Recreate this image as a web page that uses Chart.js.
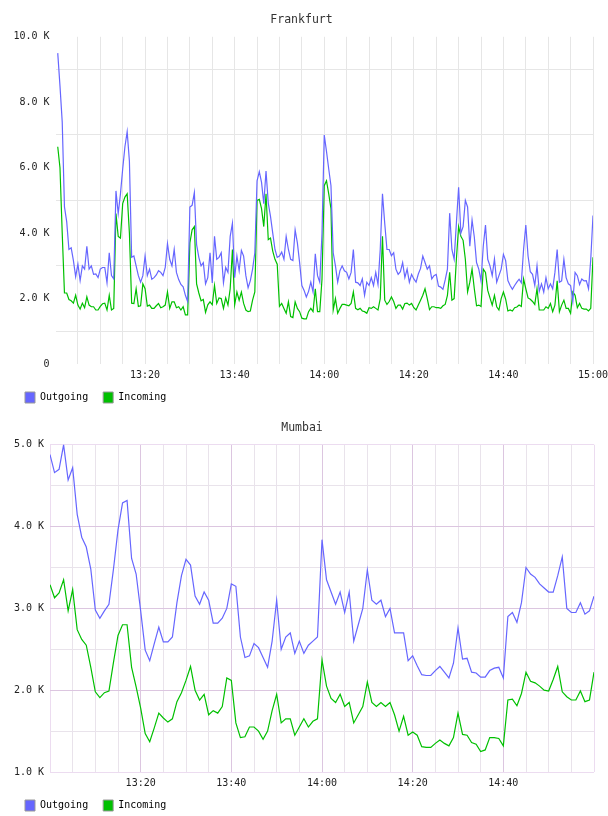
<!DOCTYPE html>
<html>
<head>
<meta charset="utf-8">
<script src="https://cdn.jsdelivr.net/npm/chart.js@4.4.1/dist/chart.umd.min.js"></script>
<style>
  html, body { margin: 0; padding: 0; background: #fff; }
  canvas { display: block; }
</style>
</head>
<body>
<canvas id="frankfurt" width="608" height="408"></canvas>
<canvas id="mumbai" width="608" height="408"></canvas>
<script>
// Frankfurt: one sample every 30 s from 13:00:30 to 15:00 (values in K)
const fraStart = 0.5;
const fraStep = 0.5;
const fraOutgoing = [
  9.5, 8.5, 7.4, 4.8, 4.35, 3.5, 3.55, 3.16, 2.67, 3.05,
  2.55, 3.0, 2.9, 3.6, 2.9, 3.0, 2.74, 2.75, 2.64, 2.9,
  2.95, 2.95, 2.48, 3.4, 2.7, 2.6, 5.29, 4.6, 5.2, 5.96,
  6.64, 7.1, 6.2, 3.26, 3.3, 3.0, 2.7, 2.5, 2.7, 3.3,
  2.7, 2.9, 2.59, 2.64, 2.72, 2.85, 2.8, 2.7, 2.95, 3.68,
  3.2, 3.0, 3.5, 2.8, 2.58, 2.43, 2.36, 2.1, 1.91, 4.8,
  4.85, 5.24, 3.65, 3.26, 3.0, 3.1, 2.45, 2.64, 3.4, 2.48,
  3.9, 3.2, 3.26, 3.4, 2.48, 2.95, 2.8, 3.9, 4.3, 2.64,
  3.3, 2.85, 3.47, 3.3, 2.7, 2.33, 2.55, 2.9, 3.4, 5.6,
  5.88, 5.55, 4.9, 5.9, 4.92, 4.51, 4.0, 3.5, 3.26, 3.3,
  3.42, 3.2, 3.9, 3.5, 3.2, 3.16, 4.1, 3.7, 3.1, 2.4,
  2.25, 2.05, 2.22, 2.5, 2.2, 3.37, 2.7, 2.5, 4.0, 7.0,
  6.5, 5.96, 5.45, 3.4, 3.0, 2.5, 2.85, 3.0, 2.85, 2.8,
  2.6, 2.8, 3.5, 2.5, 2.48, 2.4, 2.6, 2.1, 2.5, 2.4,
  2.64, 2.4, 2.8, 2.43, 3.5, 5.2, 4.3, 3.5, 3.5, 3.31,
  3.4, 2.9, 2.74, 2.82, 3.1, 2.64, 2.9, 2.5, 2.74, 2.6,
  2.5, 2.75, 2.92, 3.3, 3.1, 2.9, 3.0, 2.6, 2.7, 2.74,
  2.38, 2.35, 2.28, 2.57, 2.9, 4.61, 3.5, 3.2, 4.3, 5.4,
  4.0, 4.2, 5.0, 4.8, 3.6, 4.4, 3.88, 3.1, 2.9, 2.54,
  3.6, 4.25, 3.2, 3.0, 2.7, 3.21, 2.5, 2.7, 2.9, 3.35,
  3.16, 2.55, 2.4, 2.28, 2.4, 2.5, 2.59, 2.48, 3.5, 4.25,
  3.3, 2.82, 2.74, 2.4, 3.0, 2.22, 2.45, 2.2, 2.64, 2.3,
  2.45, 2.3, 2.8, 3.5, 2.5, 2.54, 3.2, 2.64, 2.45, 2.4,
  1.91, 2.8, 2.7, 2.43, 2.6, 2.54, 2.55, 2.3, 3.2, 4.54
];
const fraIncoming = [
  6.64, 6.0, 4.0, 2.17, 2.17, 1.97, 1.93, 1.86, 2.1, 1.8,
  1.68, 1.86, 1.72, 2.05, 1.8, 1.75, 1.75, 1.65, 1.65, 1.76,
  1.84, 1.86, 1.65, 2.1, 1.65, 1.7, 4.6, 3.9, 3.85, 4.9,
  5.1, 5.2, 4.0, 1.86, 1.85, 2.3, 1.76, 1.78, 2.45, 2.3,
  1.77, 1.8, 1.7, 1.7, 1.78, 1.85, 1.72, 1.75, 1.8, 2.2,
  1.7, 1.9, 1.9, 1.72, 1.75, 1.65, 1.75, 1.5, 1.5, 3.7,
  4.1, 4.2, 2.45, 2.17, 1.93, 1.97, 1.58, 1.81, 1.9, 1.81,
  2.4, 1.85, 2.02, 2.0, 1.7, 2.02, 1.8, 2.3, 3.5, 1.81,
  2.2, 1.95, 2.2, 1.85, 1.65, 1.6, 1.62, 1.95, 2.2, 5.0,
  5.03, 4.75, 4.2, 5.2, 3.8, 3.85, 3.45, 3.2, 3.05, 1.76,
  1.85, 1.7, 1.55, 1.9, 1.45, 1.42, 1.9, 1.7, 1.6, 1.4,
  1.38, 1.38, 1.6, 1.7, 1.6, 2.3, 1.6, 1.6, 2.6, 5.45,
  5.6, 5.2, 4.75, 1.65, 2.0, 1.55, 1.7, 1.82, 1.82, 1.8,
  1.78, 1.85, 2.2, 1.7, 1.66, 1.7, 1.62, 1.6, 1.55, 1.72,
  1.7, 1.75, 1.7, 1.65, 2.0, 3.9, 1.95, 1.82, 1.91, 2.05,
  1.91, 1.7, 1.8, 1.8, 1.68, 1.85, 1.86, 1.8, 1.85, 1.72,
  1.65, 1.8, 1.95, 2.1, 2.3, 2.0, 1.66, 1.75, 1.75, 1.72,
  1.72, 1.7, 1.78, 1.82, 2.1, 2.8, 1.95, 2.0, 3.2, 4.2,
  3.9, 3.78, 3.2, 2.2, 2.5, 2.9, 2.3, 1.78, 1.8, 1.76,
  2.9, 2.8, 2.25, 2.02, 1.8, 2.1, 1.75, 1.65, 2.0, 2.2,
  1.98, 1.62, 1.65, 1.62, 1.72, 1.74, 1.8, 1.76, 2.6, 2.3,
  2.02, 1.98, 1.91, 1.82, 2.3, 1.65, 1.65, 1.65, 1.75, 1.7,
  1.85, 1.6, 1.8, 2.54, 1.6, 1.8, 1.95, 1.7, 1.7, 1.55,
  2.2, 2.1, 1.72, 1.85, 1.7, 1.68, 1.68, 1.62, 1.7, 3.26
];

// Mumbai: one sample per minute from 13:00 to 15:00 (values in K)
const mumStart = 0;
const mumStep = 1;
const mumOutgoing = [
  4.88, 4.66, 4.70, 5.0, 4.57, 4.72, 4.15, 3.87, 3.75, 3.48,
  2.98, 2.88, 2.97, 3.05, 3.48, 3.96, 4.29, 4.32, 3.61, 3.42,
  2.97, 2.49, 2.36, 2.57, 2.77, 2.59, 2.59, 2.65, 3.07, 3.40,
  3.60, 3.53, 3.15, 3.05, 3.2, 3.1, 2.82, 2.82, 2.88, 3.0,
  3.3, 3.27, 2.65, 2.4, 2.42, 2.57, 2.52, 2.4, 2.28, 2.6,
  3.1, 2.5, 2.65, 2.7, 2.45, 2.6, 2.45, 2.55, 2.6, 2.65,
  3.84, 3.35, 3.2, 3.05, 3.2, 2.95, 3.2, 2.6, 2.8, 3.0,
  3.47, 3.1, 3.05, 3.1, 2.9, 3.0, 2.7, 2.7, 2.70, 2.36,
  2.42, 2.30, 2.19, 2.18, 2.18, 2.24, 2.29, 2.22, 2.15, 2.33,
  2.76, 2.38, 2.39, 2.22, 2.21, 2.16, 2.16, 2.24, 2.27, 2.28,
  2.15, 2.90, 2.95, 2.83, 3.07, 3.5, 3.42, 3.38, 3.3, 3.25,
  3.2, 3.2, 3.4, 3.63, 3.0, 2.95, 2.95, 3.07, 2.93, 2.97, 3.15
];
const mumIncoming = [
  3.29, 3.13, 3.19, 3.35, 2.97, 3.23, 2.74, 2.62, 2.55, 2.28,
  1.98, 1.91, 1.97, 1.99, 2.34, 2.67, 2.80, 2.80, 2.28, 2.04,
  1.78, 1.47, 1.37, 1.54, 1.72, 1.66, 1.61, 1.65, 1.86, 1.97,
  2.12, 2.29, 2.0, 1.88, 1.95, 1.7, 1.75, 1.72, 1.8, 2.15,
  2.12, 1.6, 1.42, 1.43, 1.55, 1.55, 1.5, 1.4, 1.5, 1.75,
  1.95, 1.6, 1.65, 1.65, 1.45, 1.55, 1.65, 1.55, 1.62, 1.65,
  2.37, 2.05, 1.9, 1.85, 1.95, 1.8, 1.85, 1.6, 1.7, 1.8,
  2.1, 1.85, 1.8, 1.85, 1.8, 1.85, 1.7, 1.5, 1.68, 1.45,
  1.49, 1.45, 1.31, 1.30, 1.30, 1.35, 1.39, 1.35, 1.32, 1.42,
  1.72, 1.46, 1.45, 1.36, 1.34, 1.25, 1.27, 1.42, 1.42, 1.41,
  1.32, 1.88, 1.89, 1.81, 1.96, 2.22, 2.11, 2.09, 2.05, 2.0,
  1.99, 2.13, 2.29, 1.98, 1.92, 1.88, 1.88, 1.99, 1.86, 1.88, 2.22
];

// tick labels (minutes after 13:00 -> text)
const timeTickMinutes = [20, 40, 60, 80, 100, 120];
const timeTickLabels = ['13:20', '13:40', '14:00', '14:20', '14:40', '15:00'];
const fraYTickValues = [0, 2, 4, 6, 8, 10];
const fraYTickLabels = ['0', '2.0 K', '4.0 K', '6.0 K', '8.0 K', '10.0 K'];
const mumYTickValues = [1, 2, 3, 4, 5];
const mumYTickLabels = ['1.0 K', '2.0 K', '3.0 K', '4.0 K', '5.0 K'];

const outColor = '#6666ff';
const inColor = '#00c000';
const monoFont = "'DejaVu Sans Mono', monospace";

function toPoints(values, start, step) {
  return values.map((v, i) => ({ x: start + i * step, y: v }));
}

function labelFor(value, values, labels) {
  const i = values.findIndex(v => Math.abs(v - value) < 1e-6);
  return i === -1 ? '' : labels[i];
}

function buildChart(canvasId, opts) {
  const ctx = document.getElementById(canvasId);
  new Chart(ctx, {
    type: 'line',
    data: {
      datasets: [
        { label: 'Outgoing', data: opts.outgoing, borderColor: outColor, backgroundColor: outColor },
        { label: 'Incoming', data: opts.incoming, borderColor: inColor, backgroundColor: inColor }
      ]
    },
    options: {
      responsive: false,
      animation: false,
      elements: {
        line: { borderWidth: 1.2, tension: 0 },
        point: { radius: 0 }
      },
      layout: { padding: { left: 10, right: opts.padRight, top: 0, bottom: -5 } },
      plugins: {
        title: {
          display: true,
          text: opts.title,
          color: '#333',
          font: { family: monoFont, size: 11.5, weight: 'normal' },
          padding: { top: 13, bottom: 10 }
        },
        legend: {
          position: 'bottom',
          align: 'start',
          labels: {
            boxWidth: 10,
            boxHeight: 11,
            padding: 15,
            color: '#111',
            font: { family: monoFont, size: 10 },
            generateLabels: chart => chart.data.datasets.map((ds, i) => ({
              text: ds.label,
              fillStyle: ds.borderColor,
              strokeStyle: '#999',
              lineWidth: 1,
              datasetIndex: i,
              hidden: false
            }))
          }
        },
        tooltip: { enabled: false }
      },
      scales: {
        x: {
          type: 'linear',
          min: 0,
          max: 120,
          afterBuildTicks: axis => {
            const ticks = [];
            for (let v = 0; v <= 120; v += 5) ticks.push({ value: v });
            axis.ticks = ticks;
          },
          afterFit: axis => {
            // keep the legend tight under the axis, and let labels overflow the short box
            axis.height = 13;
            axis.paddingLeft = 0;
            axis.paddingRight = 0;
            axis._computeLabelArea = () => undefined;
          },
          border: { display: false },
          grid: {
            drawTicks: false,
            color: c => opts.xGridColor(c.tick.value),
            lineWidth: 1
          },
          ticks: {
            autoSkip: false,
            maxRotation: 0,
            minRotation: 0,
            padding: 5,
            color: '#222',
            font: { family: monoFont, size: 10 },
            callback: v => (opts.hideLast && v === 120) ? '' : labelFor(v, timeTickMinutes, timeTickLabels)
          }
        },
        y: {
          type: 'linear',
          min: opts.yMin,
          max: opts.yMax,
          afterBuildTicks: axis => {
            const ticks = [];
            for (let v = opts.yMin; v <= opts.yMax + 1e-9; v += opts.yStep) ticks.push({ value: Math.round(v * 100) / 100 });
            axis.ticks = ticks;
          },
          afterFit: axis => { axis.width = opts.yWidth; },
          border: { display: false },
          grid: {
            drawTicks: false,
            color: c => opts.yGridColor(c.tick.value),
            lineWidth: 1
          },
          ticks: {
            autoSkip: false,
            padding: 6,
            color: '#222',
            font: { family: monoFont, size: 10 },
            callback: v => labelFor(v, opts.yTickValues, opts.yTickLabels)
          }
        }
      }
    }
  });
}

const fraGrid = '#e6e6e6';
buildChart('frankfurt', {
  title: 'Frankfurt',
  outgoing: toPoints(fraOutgoing, fraStart, fraStep),
  incoming: toPoints(fraIncoming, fraStart, fraStep),
  yMin: 0, yMax: 10, yStep: 1,
  yWidth: 45.5,
  padRight: 15,
  hideLast: false,
  yTickValues: fraYTickValues,
  yTickLabels: fraYTickLabels,
  xGridColor: v => v === 0 ? 'rgba(0,0,0,0)' : fraGrid,
  yGridColor: v => (Math.round(v) % 2 === 1) ? fraGrid : 'rgba(0,0,0,0)'
});

const mumMajor = '#dcc6e0';
const mumMinor = '#e9e3eb';
const mumBorder = '#ecdcf0';
buildChart('mumbai', {
  title: 'Mumbai',
  outgoing: toPoints(mumOutgoing, mumStart, mumStep),
  incoming: toPoints(mumIncoming, mumStart, mumStep),
  yMin: 1, yMax: 5, yStep: 0.5,
  yWidth: 40,
  padRight: 14,
  hideLast: true,
  yTickValues: mumYTickValues,
  yTickLabels: mumYTickLabels,
  xGridColor: v => (v === 0 || v === 120) ? mumBorder : (v % 20 === 0 ? mumMajor : mumMinor),
  yGridColor: v => (v === 1 || v === 5) ? mumBorder : (Number.isInteger(v) ? mumMajor : mumMinor)
});
</script>
</body>
</html>
